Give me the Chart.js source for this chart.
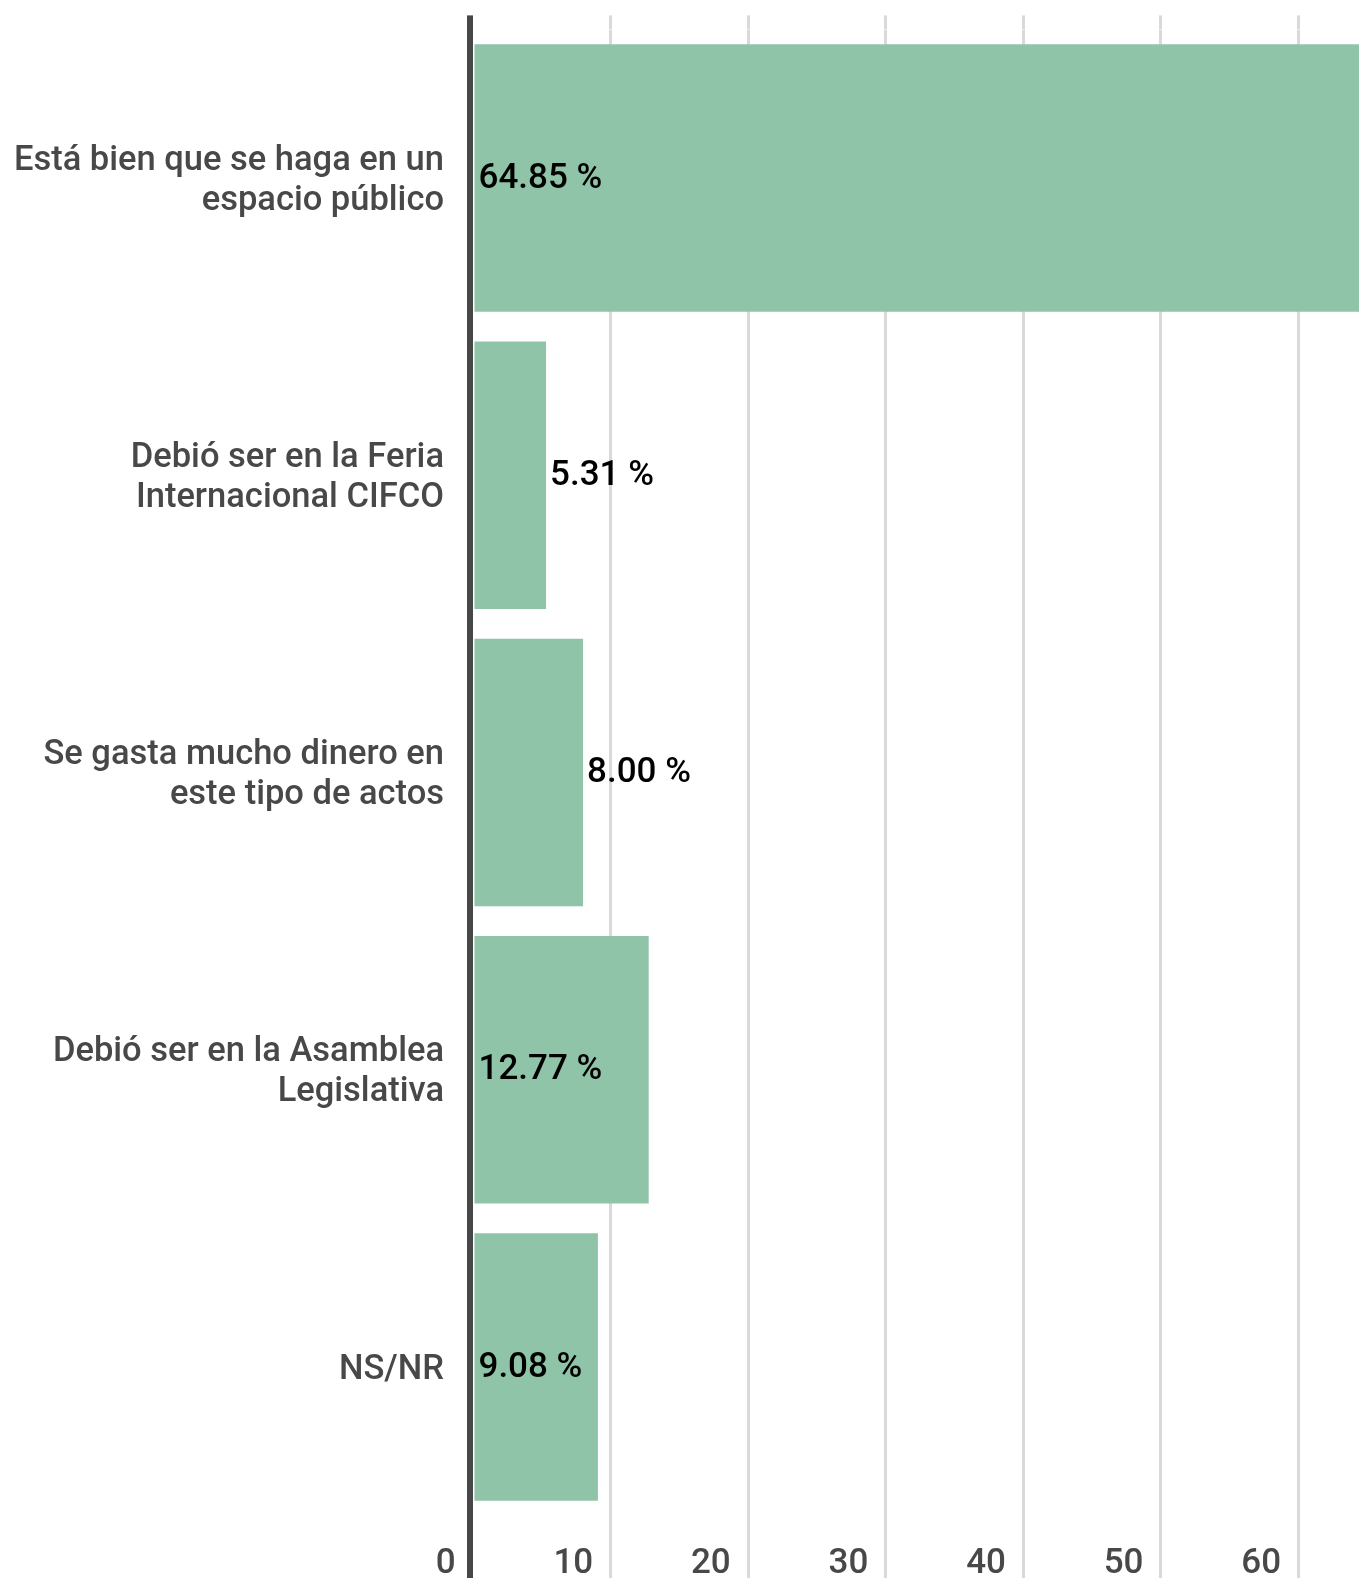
<!DOCTYPE html>
<html>
<head>
<meta charset="utf-8">
<script src="https://cdn.jsdelivr.net/npm/chart.js@4.4.1/dist/chart.umd.min.js"></script>
<style>
  html, body { margin: 0; padding: 0; background: #fff; }
  #wrap { position: relative; width: 1359px; height: 1578px; }
</style>
</head>
<body>
<div id="wrap"><canvas id="opinionChart"></canvas></div>
<script>
// Categories (wrapped as in the original) and share of answers in %
const categories = [
    ['Está bien que se haga en un', 'espacio público'],
    ['Debió ser en la Feria', 'Internacional CIFCO'],
    ['Se gasta mucho dinero en', 'este tipo de actos'],
    ['Debió ser en la Asamblea', 'Legislativa'],
    'NS/NR'
];
const shares = [64.85, 5.31, 8.00, 12.77, 9.08];
const tickStep = 10;
const axisMax = 64.4;

const barColor = '#8fc4a8';
const gridColor = '#d9d9d9';
const axisColor = '#484848';

Chart.defaults.font.family = 'Roboto';

// grid colour: hide the 0 line, the dark axis line is drawn instead
const gridLineColor = (ctx) => (ctx.tick && ctx.tick.value === 0 ? 'rgba(0,0,0,0)' : gridColor);

// no extra room for overhanging labels, the layout is fixed
const noOverhang = (scale) => {
    scale.paddingTop = 0;
    scale.paddingBottom = 0;
    scale.paddingLeft = 0;
    scale.paddingRight = 0;
};

// Dark vertical axis line just left of zero, full height
const zeroLine = {
    id: 'zeroLine',
    beforeDatasetsDraw(chart) {
        const ctx = chart.ctx;
        const x = chart.scales.x.getPixelForValue(0);
        const top = chart.scales.x2.top;
        ctx.save();
        ctx.fillStyle = axisColor;
        ctx.fillRect(x - 6, top, 6, chart.height - top);
        ctx.restore();
    }
};

// Value labels: inside the bar at its start when they fit, else after the bar end
const valueLabels = {
    id: 'valueLabels',
    afterDatasetsDraw(chart) {
        const ctx = chart.ctx;
        const meta = chart.getDatasetMeta(0);
        ctx.save();
        ctx.font = '500 35px Roboto';
        ctx.fillStyle = '#000';
        ctx.textAlign = 'left';
        ctx.textBaseline = 'middle';
        meta.data.forEach((bar, i) => {
            const text = shares[i].toFixed(2) + ' %';
            const w = ctx.measureText(text).width;
            const inside = w + 10 < bar.x - bar.base;
            ctx.fillText(text, inside ? bar.base + 4 : bar.x + 4, bar.y + 1);
        });
        ctx.restore();
    }
};

const chartCtx = document.getElementById('opinionChart').getContext('2d');
new Chart(chartCtx, {
    type: 'bar',
    data: {
        labels: categories,
        datasets: [{
            data: shares,
            backgroundColor: barColor,
            borderWidth: 0,
            barPercentage: 0.9,
            categoryPercentage: 1.0
        }]
    },
    options: {
        indexAxis: 'y',
        responsive: true,
        maintainAspectRatio: false,
        animation: false,
        layout: {
            padding: { top: 15.4, right: 0, bottom: 0, left: 0 }
        },
        plugins: {
            legend: { display: false },
            tooltip: { enabled: false }
        },
        scales: {
            x: {
                type: 'linear',
                position: 'bottom',
                min: 0,
                max: axisMax,
                border: { display: false },
                grid: {
                    color: gridLineColor,
                    lineWidth: 3,
                    drawTicks: true,
                    tickLength: 63
                },
                ticks: {
                    stepSize: tickStep,
                    includeBounds: false,
                    align: 'end',
                    padding: -35,
                    color: axisColor,
                    font: { size: 35, weight: '500' },
                    callback: (v) => v + '  '
                },
                afterFit: (scale) => { scale.height = 62.4; noOverhang(scale); }
            },
            x2: {
                type: 'linear',
                position: 'top',
                min: 0,
                max: axisMax,
                border: { display: false },
                grid: {
                    color: gridLineColor,
                    lineWidth: 3,
                    drawOnChartArea: false,
                    drawTicks: true,
                    tickLength: 14
                },
                ticks: {
                    stepSize: tickStep,
                    includeBounds: false,
                    display: false
                },
                afterFit: (scale) => { scale.height = 14; noOverhang(scale); }
            },
            y: {
                border: { display: false },
                grid: { display: false, drawTicks: false },
                ticks: {
                    padding: 29,
                    labelOffset: 3,
                    color: axisColor,
                    font: { size: 34.5, weight: '500', lineHeight: 1.16 }
                },
                afterFit: (scale) => { scale.width = 473; noOverhang(scale); }
            }
        }
    },
    plugins: [zeroLine, valueLabels]
});
</script>
</body>
</html>
